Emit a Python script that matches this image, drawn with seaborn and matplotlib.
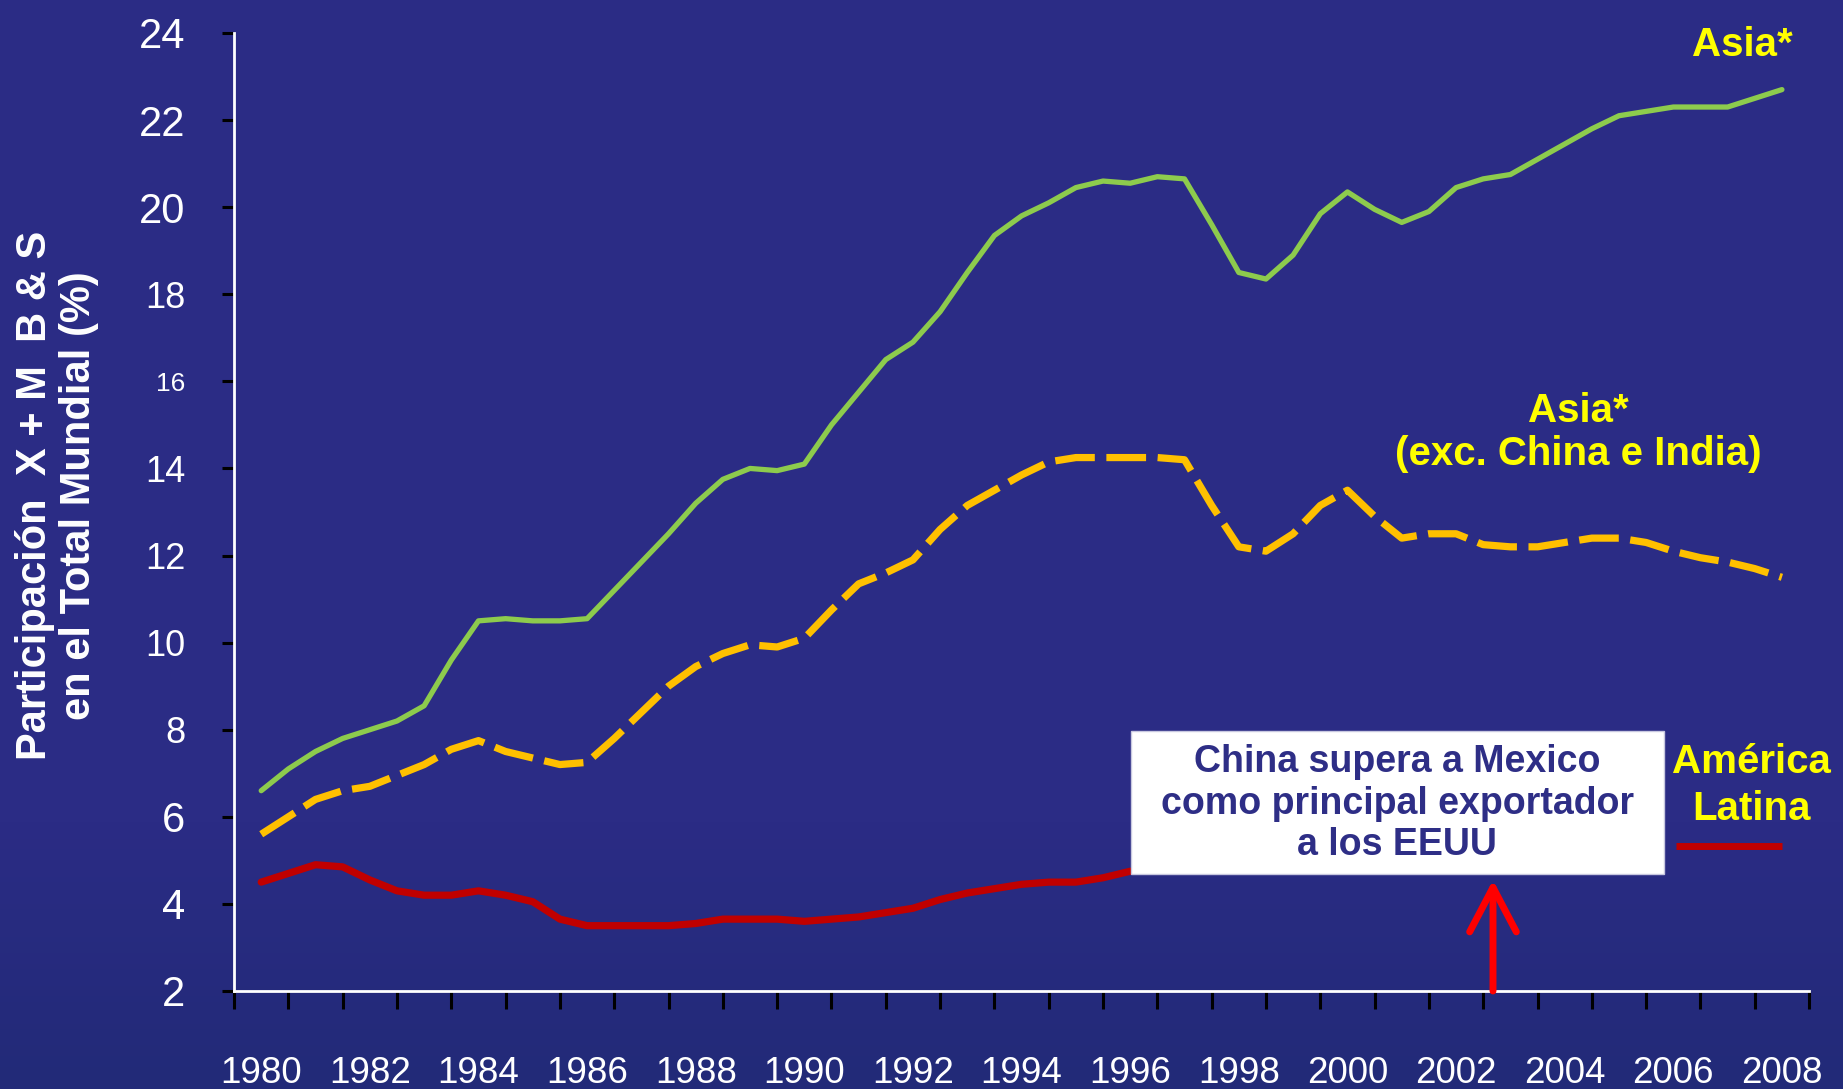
import numpy as np
import pandas as pd
import matplotlib
matplotlib.use("Agg")
import matplotlib.pyplot as plt
import seaborn as sns
from matplotlib import font_manager as fm
from matplotlib.patches import Rectangle

# -------------------------
# Data (half-year steps)
# -------------------------
year_labels = ["1980", "1982", "1984", "1986", "1988", "1990", "1992", "1994",
               "1996", "1998", "2000", "2002", "2004", "2006", "2008"]

asia = [6.6, 7.1, 7.5, 7.8, 8.0, 8.2, 8.55, 9.6, 10.5, 10.55,
        10.5, 10.5, 10.55, 11.2, 11.85, 12.5, 13.2, 13.75, 14.0, 13.95,
        14.1, 15.0, 15.75, 16.5, 16.9, 17.6, 18.5, 19.35, 19.8, 20.1,
        20.45, 20.6, 20.55, 20.7, 20.65, 19.6, 18.5, 18.35, 18.9, 19.85,
        20.35, 19.95, 19.65, 19.9, 20.45, 20.65, 20.75, 21.1, 21.45, 21.8,
        22.1, 22.2, 22.3, 22.3, 22.3, 22.5, 22.7]

asia_exc = [5.6, 6.0, 6.4, 6.6, 6.7, 6.95, 7.2, 7.55, 7.75, 7.5,
            7.35, 7.2, 7.25, 7.8, 8.4, 9.0, 9.45, 9.75, 9.95, 9.9,
            10.1, 10.75, 11.35, 11.6, 11.9, 12.6, 13.15, 13.5, 13.85, 14.15,
            14.25, 14.25, 14.25, 14.25, 14.2, 13.15, 12.2, 12.1, 12.5, 13.15,
            13.5, 12.9, 12.4, 12.5, 12.5, 12.25, 12.2, 12.2, 12.3, 12.4,
            12.4, 12.3, 12.1, 11.95, 11.85, 11.7, 11.5]

america_latina = [4.5, 4.7, 4.9, 4.85, 4.55, 4.3, 4.2, 4.2, 4.3, 4.2,
                  4.05, 3.65, 3.5, 3.5, 3.5, 3.5, 3.55, 3.65, 3.65, 3.65,
                  3.6, 3.65, 3.7, 3.8, 3.9, 4.1, 4.25, 4.35, 4.45, 4.5,
                  4.5, 4.6, 4.75]

y_ticks = [2, 4, 6, 8, 10, 12, 14, 16, 18, 20, 22, 24]

BG = "#2B2C85"
NAVY = "#2E2E86"
YELLOW = "#FFFF00"

names = {f.name for f in fm.fontManager.ttflist}
NARROW = "Liberation Sans Narrow" if "Liberation Sans Narrow" in names else "Liberation Sans"

sns.set_style("white")
plt.rcParams["font.family"] = ["Liberation Sans", "DejaVu Sans"]

# -------------------------
# Long-form table
# -------------------------
frames = []
for name, vals in [("Asia*", asia), ("Asia* exc", asia_exc), ("America Latina", america_latina)]:
    frames.append(pd.DataFrame({"x": np.arange(len(vals)) * 0.5, "valor": vals, "serie": name}))
df = pd.concat(frames, ignore_index=True)

fig = plt.figure(figsize=(18.43, 10.89), dpi=100, facecolor=BG)

# background gradient, darker near the bottom
bg = fig.add_axes([0, 0, 1, 1], zorder=-10)
grad = np.ones((200, 1))
grad[150:, 0] = np.linspace(1, 0, 50)
bg.imshow(grad, aspect="auto", cmap=matplotlib.colors.LinearSegmentedColormap.from_list(
    "bg", ["#222A78", BG]), extent=[0, 1, 0, 1], origin="upper")
bg.axis("off")

ax = fig.add_axes([0.127, 0.090, 0.8546, 0.8797])
ax.set_facecolor("none")

sns.lineplot(data=df[df.serie == "Asia*"], x="x", y="valor", color="#8DCB4D",
             lw=3.8, estimator=None, legend=False, ax=ax, zorder=3)
sns.lineplot(data=df[df.serie == "Asia* exc"], x="x", y="valor", color="#FFC000",
             lw=5.2, linestyle=(0, (5.5, 1.6)), dash_capstyle="butt",
             estimator=None, legend=False, ax=ax, zorder=3)
sns.lineplot(data=df[df.serie == "America Latina"], x="x", y="valor", color="#C00000",
             lw=5.2, estimator=None, legend=False, ax=ax, zorder=3)

# -------------------------
# Axes styling
# -------------------------
ax.set_xlim(-0.5, 28.5)
ax.set_ylim(2, 24)
ax.set_xlabel("")
ax.set_ylabel("")
for s in ["top", "right"]:
    ax.spines[s].set_visible(False)
for s in ["left", "bottom"]:
    ax.spines[s].set_color("white")
    ax.spines[s].set_linewidth(2)

ax.set_yticks(y_ticks)
ax.set_yticklabels([str(v) for v in y_ticks])
ax.tick_params(axis="y", which="major", color="black", length=9, width=2.2,
               direction="out", pad=26, labelcolor="white", left=True)
for lbl in ax.get_yticklabels():
    t = lbl.get_text()
    if t in ("24", "22", "20", "6", "4", "2"):
        lbl.set_fontfamily(NARROW)
        lbl.set_fontsize(30)
    elif t == "16":
        lbl.set_fontsize(19)
    else:
        lbl.set_fontsize(26)

ax.set_xticks(np.arange(-0.5, 29, 1))
ax.set_xticklabels([])
ax.set_xticks(np.arange(0, 29, 2), minor=True)
ax.set_xticklabels(year_labels, minor=True, fontfamily=NARROW, fontsize=26.5, color="white")
ax.tick_params(axis="x", which="major", color="black", length=13, width=2.2,
               direction="out", bottom=True)
ax.tick_params(axis="x", which="minor", length=0, pad=47, bottom=True)

fig.text(0.031, 0.545, "Participación  X + M  B & S\nen el Total Mundial (%)",
         rotation=90, ha="center", va="center", multialignment="center",
         color="white", fontsize=30, fontweight="bold", linespacing=1.15)

# -------------------------
# Annotations
# -------------------------
ax.text(27.27, 23.73, "Asia*", color=YELLOW, fontsize=29, fontweight="bold",
        ha="center", va="center", clip_on=False)
ax.text(24.26, 14.82, "Asia*\n(exc. China e India)", color=YELLOW, fontsize=29,
        fontweight="bold", ha="center", va="center", linespacing=1.15)
ax.text(27.44, 6.72, "América\nLatina", color=YELLOW, fontsize=29, fontweight="bold",
        fontfamily=NARROW, ha="center", va="center", linespacing=1.3, clip_on=False)
ax.plot([0.9153, 0.9826], [0.1514, 0.1514], transform=ax.transAxes, color="#C00000",
        lw=5, solid_capstyle="butt", clip_on=False)

ax.add_patch(Rectangle((16.02, 4.68), 9.8, 3.29, facecolor="white",
                       edgecolor="#C8C8E0", lw=1, zorder=5))
ax.text(20.92, 6.3, "China supera a Mexico\ncomo principal exportador\na los EEUU",
        color=NAVY, fontsize=27, fontweight="bold", ha="center", va="center",
        linespacing=1.2, zorder=6)

ax.annotate("", xy=(22.68, 4.55), xytext=(22.68, 2.0),
            arrowprops=dict(arrowstyle="->, head_length=0.8, head_width=0.42",
                            color="#FF0000", lw=5, shrinkA=0, shrinkB=0,
                            mutation_scale=40, capstyle="round"),
            zorder=6, annotation_clip=False)

fig.savefig("out.png", dpi=100, facecolor=BG)
